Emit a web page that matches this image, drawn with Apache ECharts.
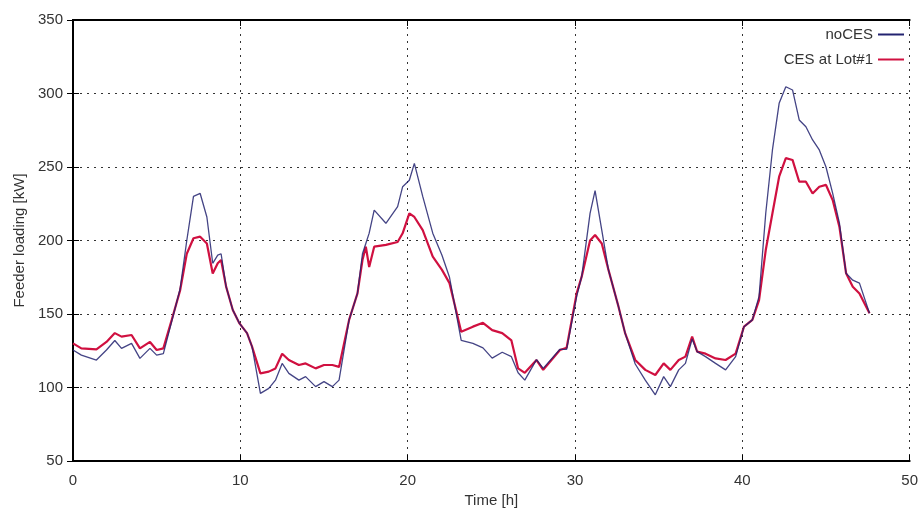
<!DOCTYPE html>
<html>
<head>
<meta charset="utf-8">
<script src="https://cdn.jsdelivr.net/npm/echarts@6/dist/echarts.min.js"></script>
<style>html,body{margin:0;padding:0;background:#fff;}#c{width:921px;height:527px;}</style>
</head>
<body>
<div id="c"></div>
<script>
const times = [0,0.5,1.4,2,2.5,2.9,3.5,4,4.6,5,5.4,5.9,6.4,6.8,7.2,7.6,8,8.35,8.65,8.85,9.15,9.55,9.95,10.4,10.7,11.2,11.7,12.1,12.5,12.9,13.5,13.9,14.5,15,15.5,15.9,16.5,17,17.3,17.5,17.7,18,18.7,19.4,19.7,20.1,20.4,20.9,21.5,22.05,22.5,23.2,23.9,24.5,25.05,25.65,26.2,26.6,27,27.7,28.1,29.1,29.5,30.1,30.4,30.9,31.2,31.6,32,32.6,33,33.6,34.2,34.8,35.3,35.7,36.2,36.6,37,37.3,37.8,38.4,39,39.6,40.1,40.6,41,41.4,41.8,42.2,42.6,43,43.4,43.8,44.2,44.6,45,45.4,45.8,46.2,46.6,47,47.6];
const noCES = [125.5,122,118.7,125.5,132,126.6,130,119.8,126.6,122,123,145,167,200,230,232,216,184.5,190,191,168.6,152.7,143.6,137,127.8,96,99.4,105,116.4,109.6,105,107.4,100.6,104,100.6,105,146,164,191,198,205,220.7,211.7,223,236.6,241,252.5,230,205,190,175,132,130,127,120,124,121,110,105,119,113,126,126,162,175.4,218.5,234,207,180,155,136.8,116,105,95,107.4,100.6,112,116.4,133,124.4,121,116.4,112,121,141.4,146,162,218.5,261.6,293.3,304.6,302.4,282,277.4,268.4,261.6,250,232,212,177.7,173,171,150.5];
const cesLot1 = [130,126.6,126,131,137,134.6,135.7,126.6,131,125.5,126.6,146,166,191,201.5,202.6,198,177.6,184.5,186.7,168.6,152.7,143.6,137,127.8,109.6,110.8,113,123,118.7,115.3,116.4,113,115.3,115.3,114,146,164,186.7,195.8,182,195.8,197,199,204.9,218.5,216,207,189,180,171,138,141.4,144,139,137,132,113,110,118.7,112,125.5,127,164,175.4,200,203.7,198,180,155,136.8,118.7,112,108.5,116.4,112,118.7,121,134.6,124.4,123,119.8,118.7,123,141.4,146,159.5,193.5,218.5,243.4,256,254.8,240,240,232,236.6,237.8,227.5,209.4,177.7,168.6,164,150.5];
const seriesNames = ['noCES','CES at Lot#1'];
const xTicks = {min:0,max:50,interval:10};
const yTicks = {min:50,max:350,interval:50};

const pair = arr => times.map((t,i)=>[t,arr[i]]);
const font = 'Liberation Sans, Arial, sans-serif';
const chart = echarts.init(document.getElementById('c'));
const gridLine = {show:true,lineStyle:{type:[2,5],color:'#333',width:1}};
chart.setOption({
  animation:false,
  backgroundColor:'#fff',
  grid:{left:73,top:20,right:9,bottom:66,show:false},
  legend:{
    data:seriesNames, orient:'vertical', right:12, top:22, align:'right',
    itemWidth:26, itemHeight:2, itemGap:10, icon:'rect',
    textStyle:{fontFamily:font,fontSize:15,color:'#333'}
  },
  xAxis:[{
    type:'value', min:xTicks.min, max:xTicks.max, interval:xTicks.interval,
    name:'Time [h]', nameLocation:'middle', nameGap:32,
    nameTextStyle:{fontFamily:font,fontSize:15,color:'#333'},
    axisLine:{show:true,onZero:false,lineStyle:{color:'#000',width:2}},
    axisTick:{show:true,inside:true,length:6,lineStyle:{color:'#000'}},
    axisLabel:{fontFamily:font,fontSize:15,color:'#333',margin:12},
    splitLine:gridLine
  },{
    type:'value', position:'top', min:xTicks.min, max:xTicks.max, interval:xTicks.interval,
    axisLine:{show:true,lineStyle:{color:'#000',width:2}},
    axisTick:{show:true,inside:true,length:6,lineStyle:{color:'#000'}},
    axisLabel:{show:false}, splitLine:{show:false}
  }],
  yAxis:[{
    type:'value', min:yTicks.min, max:yTicks.max, interval:yTicks.interval,
    name:'Feeder loading [kW]', nameLocation:'middle', nameGap:44, nameRotate:90,
    nameTextStyle:{fontFamily:font,fontSize:15,color:'#333'},
    axisLine:{show:true,lineStyle:{color:'#000',width:2}},
    axisTick:{show:true,inside:true,length:6,lineStyle:{color:'#000'}},
    axisLabel:{fontFamily:font,fontSize:15,color:'#333',margin:10},
    splitLine:gridLine
  },{
    type:'value', position:'right', min:yTicks.min, max:yTicks.max, interval:yTicks.interval,
    axisLine:{show:true,lineStyle:{color:'#000',width:2}},
    axisTick:{show:true,inside:true,length:6,lineStyle:{color:'#000'}},
    axisLabel:{show:false}, splitLine:{show:false}
  }],
  series:[{
    name:seriesNames[1], type:'line', data:pair(cesLot1), showSymbol:false, symbol:'none',
    lineStyle:{color:'#d01040',width:2.2}, itemStyle:{color:'#d01040'}, z:2
  },{
    name:seriesNames[0], type:'line', data:pair(noCES), showSymbol:false, symbol:'none',
    lineStyle:{color:'#232370',width:1.3,opacity:0.85}, itemStyle:{color:'#232370'}, z:3
  }]
});
</script>
</body>
</html>
